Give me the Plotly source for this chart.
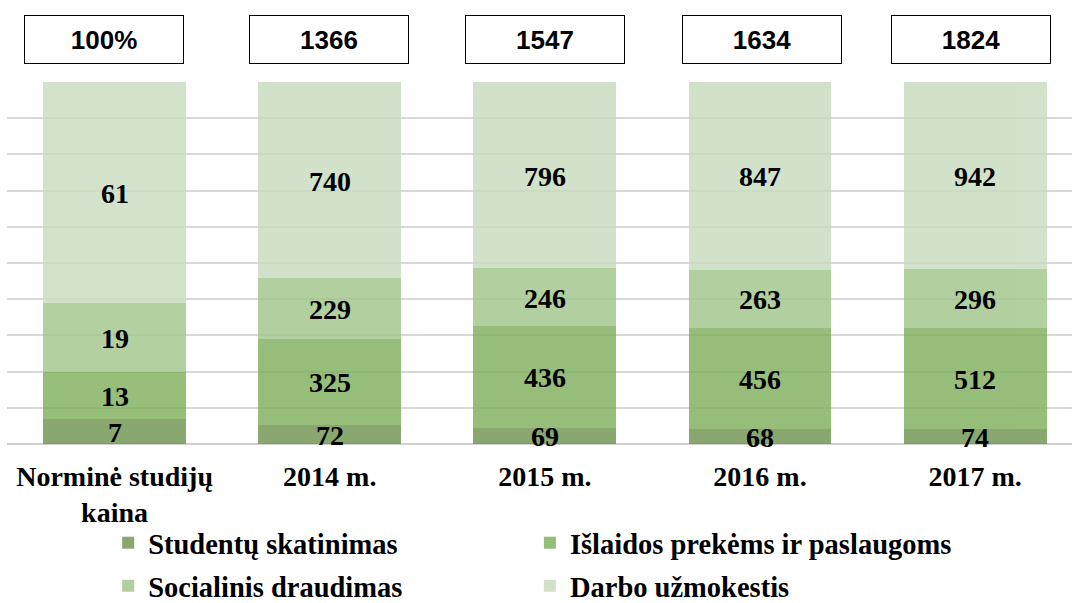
import plotly.graph_objects as go

# Cost structure per year: components of the study price
categories = ["Norminė studijų<br>kaina", "2014 m.", "2015 m.", "2016 m.", "2017 m."]
totals = ["100%", "1366", "1547", "1634", "1824"]

studentu_skatinimas = [7, 72, 69, 68, 74]
islaidos_prekems = [13, 325, 436, 456, 512]
socialinis_draudimas = [19, 229, 246, 263, 296]
darbo_uzmokestis = [61, 740, 796, 847, 942]

# (name, values, colour, legend slot)
series = [
    ("Studentų skatinimas", studentu_skatinimas, "rgb(108,146,76)", "legend"),
    ("Išlaidos prekėms ir paslaugoms", islaidos_prekems, "rgb(125,175,89)", "legend2"),
    ("Socialinis draudimas", socialinis_draudimas, "rgb(160,196,136)", "legend3"),
    ("Darbo užmokestis", darbo_uzmokestis, "rgb(200,219,190)", "legend4"),
]

SERIF = "Liberation Serif, Times New Roman, serif"
SANS = "Liberation Sans, Arial, sans-serif"
LABEL_FONT = dict(family=SERIF, size=28, color="black", weight="bold")
LEGEND_FONT = dict(family=SERIF, size=28.5, color="black", weight="bold")

fig = go.Figure()

for name, vals, color, leg in series:
    fig.add_trace(go.Bar(
        name=name, x=categories, y=vals,
        marker=dict(color=color, line=dict(width=0)),
        opacity=0.8, legend=leg,
        hoverinfo="skip",
    ))

# value labels centred in each stacked segment (shares of the bar total)
sums = [sum(s[1][i] for s in series) for i in range(len(categories))]
for i, cat in enumerate(categories):
    base = 0.0
    for name, vals, color, leg in series:
        share = vals[i] / sums[i] * 100
        fig.add_annotation(
            x=cat, y=base + share / 2, xref="x", yref="y",
            text=str(vals[i]), showarrow=False, yshift=-1,
            font=LABEL_FONT,
        )
        base += share

# boxed totals above each bar
box_shift = [-11, -1, 0, 2, -4]
for cat, tot, dx in zip(categories, totals, box_shift):
    fig.add_annotation(
        x=cat, xref="x", y=1.1174, yref="paper", yanchor="middle",
        xshift=dx, text=tot, showarrow=False,
        font=dict(family=SANS, size=26, color="black", weight="bold"),
        bgcolor="white", bordercolor="black", borderwidth=1, borderpad=1,
        width=156, height=45,
    )

legend_common = dict(
    orientation="h", xanchor="left", yanchor="middle",
    font=LEGEND_FONT, bgcolor="rgba(0,0,0,0)",
)
col_x = [0.095, 0.491]
row_y = [-0.274, -0.393]

fig.update_layout(
    width=1072, height=603,
    margin=dict(l=7, r=0, t=82, b=159, autoexpand=False),
    barmode="stack", barnorm="percent", bargap=0.336,
    plot_bgcolor="white", paper_bgcolor="white",
    font=LABEL_FONT,
    showlegend=True,
    legend=dict(x=col_x[0], y=row_y[0], **legend_common),
    legend2=dict(x=col_x[1], y=row_y[0], **legend_common),
    legend3=dict(x=col_x[0], y=row_y[1], **legend_common),
    legend4=dict(x=col_x[1], y=row_y[1], **legend_common),
)
fig.update_xaxes(
    range=[-0.5, 4.45], showgrid=False, showline=False, zeroline=False,
    ticks="", tickfont=LABEL_FONT, ticklabelstandoff=13, automargin=False,
)
fig.update_yaxes(
    range=[0, 100], dtick=10, showgrid=True, gridcolor="#d9d9d9", gridwidth=1.5,
    zeroline=True, zerolinecolor="#d0d0d0", zerolinewidth=1.5,
    showticklabels=False, ticks="", showline=False, automargin=False,
)

fig.write_html("out.html")
